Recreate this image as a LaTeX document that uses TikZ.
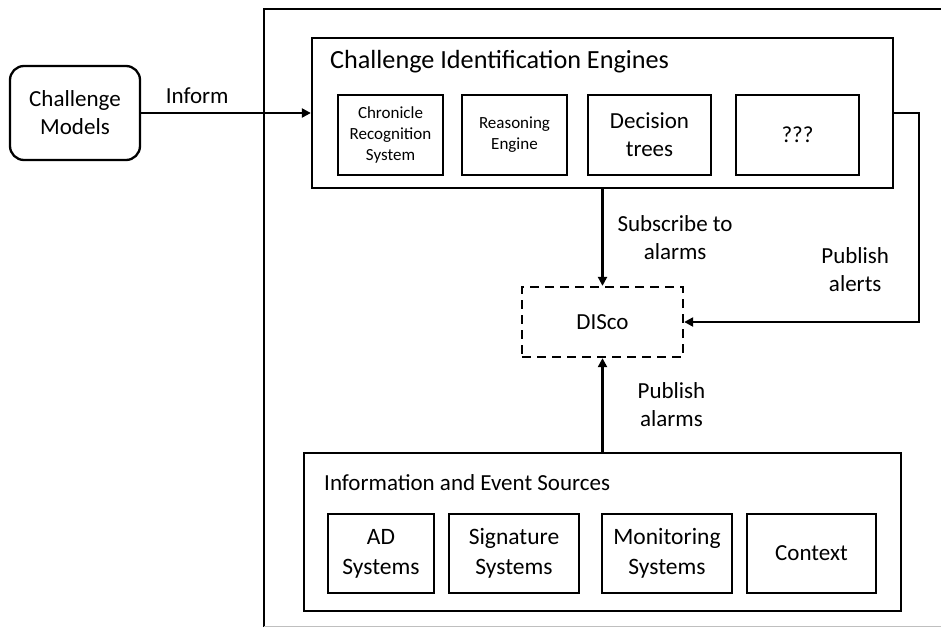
\documentclass[tikz,border=0pt]{standalone}
\usepackage{fontspec}
\setmainfont{Carlito}
\usetikzlibrary{positioning,calc,arrows.meta}

\newcommand{\bigtxt}{\fontsize{23}{28}\selectfont}
\newcommand{\smalltxt}{\fontsize{17}{21}\selectfont}

\begin{document}
\begin{tikzpicture}[x=1pt, y=-1pt, >={Triangle[length=9pt,width=9pt]},
		box/.style = {draw, line width=2.3pt, inner sep=0pt, align=center, font=\bigtxt},
		engine/.style = {box, minimum height=80pt},
		source/.style = {box, minimum height=79pt},
		link/.style = {->, line width=2.2pt},
		lbl/.style = {inner sep=0pt, align=center, font=\bigtxt}]
		\useasboundingbox (0,0) rectangle (941,627);
		% outer frame, cut off at the right and bottom
		\draw[line width=2pt] (264,627) -- (264,9) -- (941,9);
		\draw[gray!50, line width=1pt] (264,626) -- (941,626);

		\node (models) at (75,113) [box, rounded corners=14pt, minimum width=130pt, minimum height=94pt] {Challenge\\Models};

		% identification engines
		\node (engines) at (602.5,113) [box, minimum width=581pt, minimum height=150pt] {};
		\node at (330,62) [lbl, anchor=west, font=\fontsize{26.2}{30}\selectfont] {Challenge Identification Engines};
		\node (chronicle) at (390.5,135) [engine, minimum width=105pt, font=\smalltxt] {Chronicle\\Recognition\\System};
		\node (reasoning) at (514.5,135) [engine, minimum width=105pt, font=\smalltxt] {Reasoning\\Engine};
		\node (decision) at (649.5,135) [engine, minimum width=123pt] {Decision\\trees};
		\node (unknown) at (797.5,135) [engine, minimum width=123pt] {???};

		\node (disco) at (602.5,322) [box, dashed, dash pattern=on 9pt off 6pt, minimum width=161pt, minimum height=70pt] {DISco};

		% event sources
		\node (sources) at (602.5,532) [box, minimum width=597pt, minimum height=158pt] {};
		\node at (324,483) [lbl, anchor=west] {Information and Event Sources};
		\node (ad) at (381,553.5) [source, minimum width=106pt, font=\fontsize{23.5}{30}\selectfont] {AD\\Systems};
		\node (signature) at (514,553.5) [source, minimum width=130pt, font=\fontsize{23.5}{30}\selectfont] {Signature\\Systems};
		\node (monitoring) at (667,553.5) [source, minimum width=130pt, font=\fontsize{23.5}{30}\selectfont] {Monitoring\\Systems};
		\node (context) at (811.5,553.5) [source, minimum width=129pt] {Context};

		% connectors
		\draw[link] (models) -- node[lbl, pos=0.33, above=8pt] {Inform} (engines);
		\draw[link] (engines.south) -- node[lbl, right=14pt] {Subscribe to\\alarms} (disco.north);
		\draw[link] (sources.north) -- node[lbl, right=34pt] {Publish\\alarms} (disco.south);
		\draw[link] (engines.east) -- ++(25,0) |- node[lbl, pos=0.375, left=29pt] {Publish\\alerts} (disco.east);
	\end{tikzpicture}
\end{document}
